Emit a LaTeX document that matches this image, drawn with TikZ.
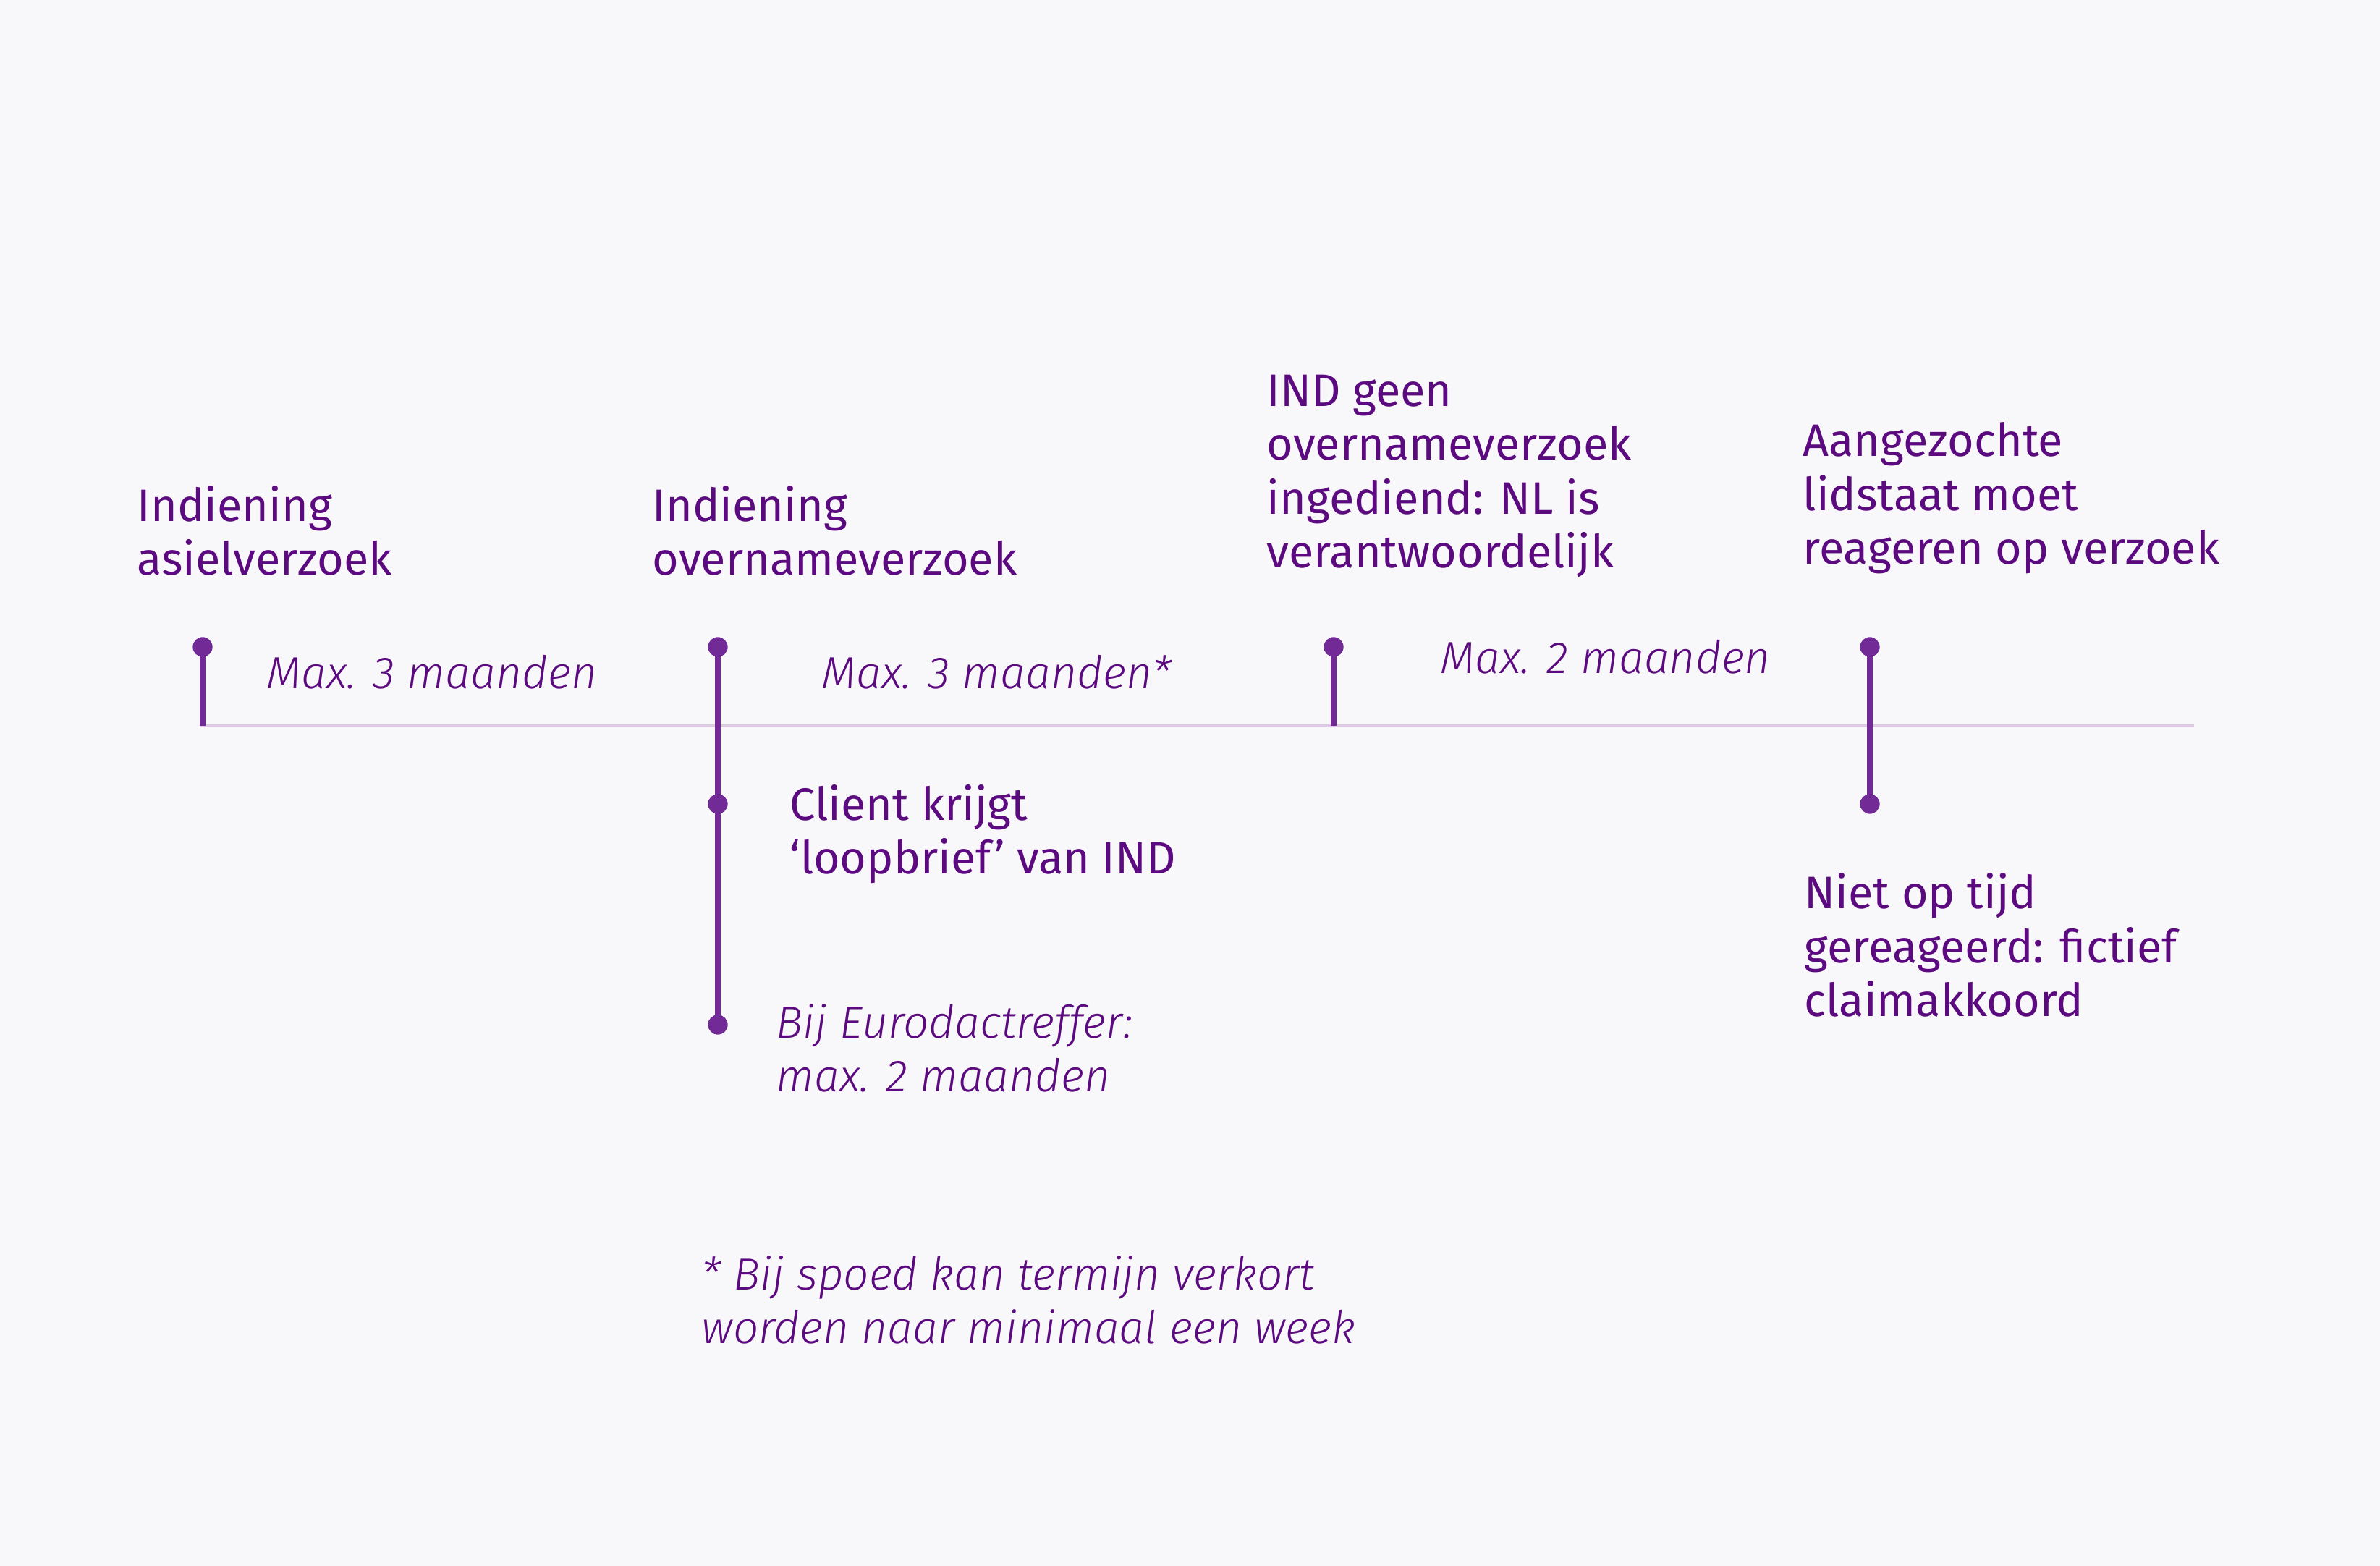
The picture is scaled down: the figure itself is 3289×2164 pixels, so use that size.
\documentclass[tikz,border=0pt]{standalone}
\usepackage{fontspec}
\setmainfont{Fira Sans}
\newfontfamily\lightit{Fira Sans Light Italic}

\definecolor{ink}{HTML}{5C0A7F}
\definecolor{pincol}{HTML}{722A96}
\definecolor{railcol}{HTML}{DDCBE3}
\definecolor{paper}{HTML}{F8F7FA}

\begin{document}
\begin{tikzpicture}[
    x=0.1mm, y=-0.1mm,
    dot/.style={circle, fill=pincol, inner sep=0pt, minimum size=2.7mm},
    stem/.style={draw=pincol, line width=0.75mm},
    axisline/.style={draw=railcol, line width=0.43mm},
    event/.style={anchor=base west, inner sep=0pt, align=left, text=ink, font=\fontsize{17.9pt}{21.2pt}\selectfont},
    period/.style={event, font=\lightit\fontsize{17.7pt}{21.2pt}\selectfont},
]

% Canvas
\fill[paper] (0,0) rectangle (3289,2164);
\useasboundingbox (0,0) rectangle (3289,2164);

% Time axis
\coordinate (axisL) at (276,1003);
\coordinate (axisR) at (3032,1003);
\draw[axisline] (axisL) -- (axisR);

% Pins
\node[dot] (asiel) at (280,894) {};
\node[dot] (overname) at (992,894) {};
\node[dot] (loopbrief) at (992,1111) {};
\node[dot] (eurodac) at (992,1416) {};
\node[dot] (geen) at (1843,894) {};
\node[dot] (lidstaat) at (2584,894) {};
\node[dot] (fictief) at (2584,1111) {};

\coordinate (asielfoot) at (280,1003);
\coordinate (geenfoot) at (1843,1003);

\draw[stem] (asiel.center) -- (asielfoot);
\draw[stem] (overname.center) -- (eurodac.center);
\draw[stem] (geen.center) -- (geenfoot);
\draw[stem] (lidstaat.center) -- (fictief.center);

% redraw dots on top of the stems
\foreach \p in {asiel,overname,loopbrief,eurodac,geen,lidstaat,fictief}
    \fill[pincol] (\p) circle (1.35mm);

% Event texts (placed at the baseline of their last line)
\node[event] (asieltext) at (189,795) {Indiening\\asielverzoek};
\node[event] (overnametext) at (901,795) {Indiening\\overnameverzoek};
\node[event] (geentext) at (1750,785) {IND geen\\overnameverzoek\\ingediend: NL is\\verantwoordelijk};
\node[event] (lidstaattext) at (2491,780) {Aangezochte\\lidstaat moet\\reageren op verzoek};
\node[event] (loopbrieftext) at (1091,1208) {Client krijgt\\‘loopbrief’ van IND};
\node[event] (fictieftext) at (2493,1405) {Niet op tijd\\gereageerd: fictief\\claimakkoord};

% Periods
\node[period] (termijn1) at (368,952) {Max. 3 maanden};
\node[period] (termijn2) at (1135,952) {Max. 3 maanden*};
\node[period] (termijn3) at (1990,931) {Max. 2 maanden};
\node[period] (eurodactext) at (1072,1509) {Bij Eurodactreffer:\\max. 2 maanden};

% Footnote
\node[period] (voetnoot) at (969,1857) {* Bij spoed kan termijn verkort\\worden naar minimaal een week};

\end{tikzpicture}
\end{document}
